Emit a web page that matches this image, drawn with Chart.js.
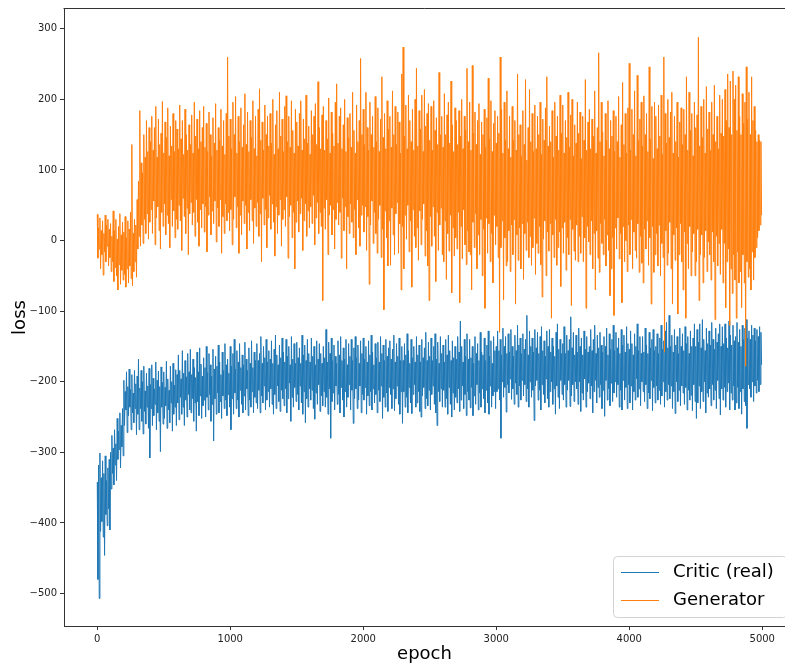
<!DOCTYPE html>
<html>
<head>
<meta charset="utf-8">
<script src="https://cdn.jsdelivr.net/npm/chart.js@4"></script>
<style>
	html, body { margin: 0; padding: 0; background: #fff; overflow: hidden; }
</style>
</head>
<body>
<canvas id="loss-chart" width="785" height="667"></canvas>
<script>

// one sample every 5 epochs (upper / lower edge of the noisy band, alternating)
const epochStep = 5;

const critic = [
	-342, -480, -318, -507, -301, -412, -336, -398, -312, -420, -330, -446, -305, -388, -340, -404, -322, -380, -310, -410,
	-300, -352, -276, -330, -294, -346, -268, -318, -288, -340, -252, -310, -270, -296, -244, -322, -262, -292, -238, -305,
	-198, -262, -214, -240, -186, -272, -207, -248, -182, -236, -211, -268, -190, -244, -216, -258, -184, -238, -203, -275,
	-192, -246, -168, -268, -209, -238, -184, -256, -200, -274, -178, -242, -213, -260, -188, -236, -206, -266, -181, -308,
	-204, -238, -176, -262, -195, -248, -210, -232, -172, -268, -198, -244, -185, -256, -207, -299, -179, -236, -201, -260,
	-186, -252, -208, -234, -171, -266, -196, -240, -212, -258, -178, -230, -200, -270, -174, -246, -205, -236, -183, -262,
	-190, -230, -162, -254, -184, -222, -196, -246, -156, -236, -188, -262, -170, -226, -193, -250, -160, -218, -186, -240,
	-154, -244, -190, -224, -168, -256, -180, -230, -194, -270, -158, -228, -186, -248, -152, -220, -175, -252, -192, -234,
	-166, -226, -180, -250, -150, -222, -187, -240, -160, -218, -176, -256, -192, -232, -154, -284, -182, -224, -164, -246,
	-178, -216, -148, -244, -172, -228, -190, -252, -158, -220, -184, -238, -146, -226, -176, -248, -168, -218, -188, -236,
	-150, -268, -178, -224, -160, -246, -140, -216, -182, -238, -156, -226, -172, -250, -146, -212, -180, -232, -162, -244,
	-176, -220, -144, -240, -168, -210, -184, -248, -152, -226, -174, -236, -142, -214, -180, -244, -158, -222, -170, -230,
	-146, -238, -170, -212, -160, -244, -136, -220, -174, -230, -150, -206, -166, -240, -140, -226, -172, -214, -156, -236,
	-168, -210, -142, -232, -174, -246, -154, -218, -134, -238, -162, -206, -176, -228, -148, -242, -166, -212, -138, -224,
	-158, -234, -172, -210, -140, -244, -164, -224, -150, -202, -176, -256, -136, -222, -168, -236, -146, -208, -174, -228,
	-144, -218, -166, -240, -152, -206, -174, -230, -134, -246, -162, -214, -148, -258, -170, -224, -140, -236, -160, -210,
	-172, -226, -138, -212, -164, -238, -150, -253, -176, -216, -142, -232, -168, -204, -146, -242, -160, -220, -174, -234,
	-150, -214, -166, -236, -126, -222, -172, -246, -144, -210, -160, -280, -138, -228, -170, -216, -148, -240, -164, -206,
	-174, -232, -142, -218, -162, -244, -136, -208, -170, -226, -152, -250, -168, -214, -140, -236, -176, -222, -146, -204,
	-164, -240, -140, -212, -170, -259, -152, -224, -136, -210, -166, -238, -148, -226, -174, -206, -142, -244, -160, -218,
	-138, -226, -168, -208, -150, -246, -172, -220, -142, -234, -162, -214, -134, -240, -158, -210, -176, -230, -146, -218,
	-166, -244, -144, -212, -172, -228, -136, -206, -160, -252, -148, -222, -170, -236, -140, -216, -164, -242, -152, -208,
	-142, -218, -168, -238, -154, -210, -134, -241, -172, -224, -146, -206, -164, -232, -138, -246, -170, -214, -150, -259,
	-170, -214, -146, -236, -162, -222, -132, -244, -156, -208, -174, -230, -140, -245, -166, -218, -150, -204, -172, -236,
	-136, -230, -162, -214, -148, -242, -172, -250, -140, -220, -166, -208, -152, -238, -130, -224, -170, -234, -144, -212,
	-164, -240, -138, -218, -170, -206, -150, -232, -132, -244, -168, -262, -144, -214, -174, -228, -136, -210, -160, -236,
	-148, -212, -172, -236, -140, -224, -162, -246, -134, -208, -156, -232, -170, -250, -142, -216, -166, -240, -150, -222,
	-168, -230, -136, -210, -158, -242, -114, -226, -150, -206, -172, -238, -140, -218, -164, -248, -132, -214, -168, -226,
	-140, -237, -166, -208, -150, -248, -174, -220, -136, -232, -160, -204, -146, -240, -170, -216, -130, -236, -158, -210,
	-162, -224, -138, -244, -170, -212, -148, -230, -128, -246, -164, -206, -142, -236, -174, -220, -136, -214, -156, -238,
	-150, -214, -128, -210, -156, -226, -140, -280, -162, -200, -124, -222, -150, -208, -136, -243, -160, -204, -132, -216,
	-158, -196, -126, -225, -150, -210, -164, -232, -134, -202, -156, -218, -120, -236, -148, -206, -138, -226, -160, -198,
	-132, -220, -154, -204, -140, -228, -106, -210, -162, -236, -128, -200, -150, -222, -138, -212, -158, -255, -126, -206,
	-152, -198, -130, -226, -160, -212, -136, -240, -122, -204, -156, -218, -142, -230, -164, -196, -128, -224, -150, -236,
	-126, -214, -158, -200, -138, -232, -150, -210, -164, -246, -130, -206, -118, -222, -154, -238, -140, -198, -160, -218,
	-146, -226, -122, -204, -160, -236, -134, -212, -156, -198, -140, -235, -108, -220, -152, -204, -130, -228, -162, -200,
	-134, -210, -158, -232, -124, -200, -150, -242, -138, -216, -162, -226, -128, -196, -154, -236, -136, -214, -158, -202,
	-150, -224, -126, -206, -156, -244, -140, -214, -120, -198, -160, -230, -134, -208, -152, -222, -130, -204, -148, -238,
	-158, -212, -136, -249, -150, -198, -124, -226, -162, -210, -132, -234, -154, -202, -140, -228, -120, -216, -156, -200,
	-130, -222, -152, -204, -138, -236, -160, -212, -126, -240, -148, -198, -134, -226, -158, -208, -122, -238, -146, -204,
	-154, -230, -128, -206, -146, -240, -162, -214, -132, -226, -150, -196, -118, -222, -156, -210, -136, -234, -160, -200,
	-136, -214, -158, -228, -124, -204, -148, -238, -160, -216, -130, -224, -152, -198, -140, -241, -126, -208, -156, -230,
	-150, -206, -132, -226, -160, -212, -138, -232, -120, -220, -154, -200, -142, -236, -128, -214, -116, -226, -152, -204,
	-106, -224, -150, -206, -134, -238, -158, -214, -126, -245, -148, -200, -136, -228, -160, -212, -124, -234, -150, -206,
	-132, -216, -156, -232, -122, -208, -146, -240, -136, -212, -160, -226, -128, -219, -150, -241, -138, -204, -118, -228,
	-150, -252, -126, -230, -144, -206, -118, -238, -152, -214, -112, -228, -140, -200, -156, -244, -124, -216, -146, -222,
	-128, -210, -148, -234, -116, -204, -140, -226, -154, -212, -124, -238, -144, -198, -132, -224, -118, -247, -150, -210,
	-122, -226, -146, -208, -118, -236, -138, -214, -152, -202, -114, -240, -134, -216, -148, -226, -120, -206, -142, -240,
	-136, -230, -116, -208, -144, -238, -126, -214, -150, -246, -120, -210, -140, -228, -124, -234, -112, -266, -138, -204,
	-128, -210, -140, -222, -120, -200, -134, -228, -124, -206, -142, -216, -126, -198, -136, -214, -122, -204, -130, -176
];

const generator = [
	37, -25, 18, -12, 32, -40, 14, -20, 28, -49, 10, -16, 36, -30, 22, -8, 30, -36, 16, -24,
	24, -44, 6, -30, 42, -58, 14, -38, 30, -50, 2, -70, 20, -34, 38, -62, 8, -42, 26, -56,
	12, -48, 34, -66, 4, -40, 28, -60, 16, -36, 40, -54, 136, -64, 10, -44, 30, -30, 22, -52,
	58, -12, 84, 6, 184, -8, 110, 22, 96, -4, 150, 30, 118, 10, 170, 38, 126, 2, 160, 26,
	140, 44, 176, 10, 128, 56, 160, -6, 190, 32, 118, 48, 172, 14, 136, -12, 152, 40, 197, 20,
	124, 52, 168, 8, 146, 36, 188, 24, 120, -10, 162, 58, 134, 20, 180, 42, 126, 4, 170, 30,
	158, 16, 130, 50, 192, 28, 144, -14, 170, 60, 122, 34, 186, 10, 150, 46, 128, -20, 164, 38,
	136, 54, 178, 22, 124, 40, 196, 6, 148, 58, 172, 26, 130, -8, 184, 44, 140, 18, 160, 52,
	190, 12, 132, 48, 166, -16, 126, 36, 182, 62, 150, 8, 120, 42, 174, 24, 138, 56, 194, -2,
	128, 46, 160, 20, 142, 58, 186, -18, 134, 34, 170, 10, 122, 52, 180, 28, 260, 40, 148, 14,
	172, 44, 130, -6, 196, 30, 150, 62, 204, 18, 124, 48, 176, -18, 140, 36, 188, 8, 132, 56,
	164, 24, 208, 50, 136, -12, 182, 40, 126, 14, 170, 58, 146, 28, 198, -4, 130, 46, 176, 20,
	120, 54, 186, 6, 215, 38, 142, -30, 168, 60, 128, 22, 192, 44, 150, -10, 176, 32, 134, 64,
	180, 16, 138, 52, 200, 26, 122, -22, 164, 48, 184, 10, 130, 36, 210, 58, 148, -8, 172, 30,
	126, 44, 190, 20, 205, 62, 140, -25, 176, 34, 132, 50, 198, 4, 156, 40, 124, -40, 186, 26,
	168, 56, 134, 12, 180, 38, 198, 60, 128, -14, 172, 28, 144, 52, 206, 6, 138, 42, 162, 18,
	122, 48, 184, 24, 150, 64, 176, -6, 194, 32, 136, 54, 225, 10, 160, 40, 130, 20, 178, -85,
	190, 46, 128, 16, 170, 58, 144, -20, 202, 36, 124, 50, 182, 8, 152, 44, 134, -12, 196, 30,
	222, 54, 138, 22, 176, 40, 188, -25, 130, 60, 164, 14, 200, 48, 126, -40, 174, 34, 146, 10,
	180, 52, 132, 26, 210, 4, 156, 44, 124, -20, 192, 58, 140, 18, 170, -8, 258, 36, 150, 50,
	186, 12, 136, 48, 210, -14, 160, 34, 128, -62, 196, 22, 150, 56, 176, -4, 132, 40, 204, 10,
	140, -18, 188, 30, 126, 50, 172, -24, 232, 16, 146, -98, 180, 42, 130, 4, 198, -36, 158, 28,
	176, -35, 132, 46, 212, 8, 150, -20, 190, 38, 136, 54, 182, -18, 168, 24, 124, -70, 236, 20,
	274, -40, 148, 36, 192, 2, 130, 50, 206, -16, 170, 28, 140, -66, 186, 44, 128, 6, 200, -10,
	244, 18, 134, -28, 184, 42, 158, -6, 206, 30, 126, 52, 214, -22, 162, 14, 180, -36, 194, -85,
	142, 34, 190, -8, 128, 48, 198, 6, 156, -58, 174, 40, 136, -14, 238, 22, 150, 46, 176, -20,
	132, -30, 208, 28, 150, -55, 178, 10, 196, -15, 138, 36, 226, -74, 164, 18, 126, -22, 188, 4,
	170, -12, 136, 40, 184, -88, 148, 20, 200, -26, 130, 44, 176, -6, 156, -34, 244, 14, 140, -16,
	196, -20, 128, -70, 248, 26, 152, -10, 182, 38, 136, -40, 170, 8, 194, -20, 122, 30, 168, -50,
	150, 16, 186, -96, 132, 32, 174, -18, 230, 24, 144, -30, 198, 10, 126, -60, 166, 36, 184, -6,
	138, 20, 176, -24, 152, -130, 260, -10, 186, 28, 124, -84, 196, 4, 142, -36, 212, -30, 130, 14,
	176, -44, 118, 22, 190, -20, 142, 30, 170, -90, 128, 8, 236, -28, 150, 18, 164, -40, 120, 24,
	184, -55, 136, 10, 228, -14, 114, 26, 160, -24, 214, 6, 140, -35, 180, -10, 126, 32, 192, -48,
	130, -4, 176, -18, 150, 20, 196, -34, 122, -80, 172, 2, 142, 28, 188, -50, 232, 12, 134, -15,
	162, 24, 140, -110, 184, 8, 118, -24, 196, 30, 148, -35, 176, -10, 128, 12, 206, -65, 152, 18,
	192, -18, 124, 26, 170, -42, 146, 4, 210, -20, 132, 30, 178, -92, 200, 16, 120, -15, 164, -28,
	138, 22, 196, -30, 152, 6, 182, -18, 116, 34, 176, -30, 142, 4, 228, -96, 128, 20, 168, -2,
	186, -20, 130, 28, 172, -40, 148, 10, 212, -70, 124, 14, 160, -25, 266, -45, 140, 24, 196, -4,
	154, -20, 120, 30, 180, -36, 142, 8, 198, -14, 130, -78, 170, -40, 148, 4, 184, -106, 126, 18,
	176, -12, 140, 32, 204, -26, 118, 10, 164, -88, 224, 20, 136, -30, 180, 0, 124, -44, 188, 22,
	251, -20, 128, 30, 186, -40, 150, 12, 212, -14, 120, -25, 234, 24, 142, -45, 172, 6, 196, -32,
	134, -60, 205, 16, 150, -12, 180, 28, 126, -35, 246, 4, 144, -90, 190, 20, 116, -45, 196, -20,
	176, 10, 130, -36, 192, 22, 148, -50, 206, -4, 122, -24, 260, -158, 180, 14, 138, -35, 200, -18,
	146, 26, 182, -40, 210, -90, 124, 8, 176, -28, 140, 18, 196, -104, 118, -20, 168, 24, 188, -30,
	136, -70, 186, 12, 150, -110, 232, -4, 128, -40, 210, 20, 156, -50, 180, -16, 120, 10, 196, -50,
	160, -30, 178, 16, 288, -85, 134, -20, 190, 8, 146, -60, 200, -24, 124, 14, 218, -44, 158, -2,
	182, -20, 128, -56, 196, 12, 150, -30, 220, -112, 140, 6, 176, -36, 130, -4, 206, -48, 152, 16,
	200, -60, 148, -4, 214, -95, 170, -30, 236, -12, 160, -120, 226, -40, 150, -75, 240, -20, 200, -56,
	220, -110, 156, -16, 232, -60, 176, -44, 150, -95, 208, -20, 166, -60, 196, -178, 246, -30, 172, -52,
	210, -40, 150, -70, 232, -16, 170, -56, 190, -24, 156, -10, 140, 4, 150, 14, 142, 22, 140, 36
];

const xTicks = [ 0, 1000, 2000, 3000, 4000, 5000 ];
const yTicks = [ -500, -400, -300, -200, -100, 0, 100, 200, 300 ];

const seriesNames = [ 'Critic (real)', 'Generator' ];
const seriesColors = [ '#1f77b4', '#ff7f0e' ];

const axisColor = '#333';
const points = vals => vals.map( ( v, i ) => ( { x: i * epochStep, y: v } ) );

Chart.defaults.font.family = '"DejaVu Sans", sans-serif';
Chart.defaults.color = '#222';

// top spine + legend box in the lower right of the axes (the figure is cut on the right)
const frame = {
	id: 'frame',
	afterDatasetsDraw( chart ) {
		const { ctx, chartArea: a, width } = chart;
		ctx.save();
		ctx.strokeStyle = axisColor;
		ctx.lineWidth = 1;
		ctx.beginPath();
		ctx.moveTo( a.left - 0.5, a.top - 0.5 );
		ctx.lineTo( width, a.top - 0.5 );
		ctx.stroke();

		const bx = 613, by = 556, bw = 174, bh = 61;
		ctx.beginPath();
		ctx.roundRect( bx + 0.5, by + 0.5, bw, bh, 4 );
		ctx.fillStyle = 'rgba(255,255,255,0.8)';
		ctx.fill();
		ctx.strokeStyle = '#d3d3d3';
		ctx.stroke();

		ctx.font = '18px "DejaVu Sans"';
		ctx.textBaseline = 'middle';
		seriesNames.forEach( ( name, i ) => {
			const y = 572 + i * 28;
			ctx.beginPath();
			ctx.moveTo( 621, y + 0.5 );
			ctx.lineTo( 659, y + 0.5 );
			ctx.strokeStyle = seriesColors[i];
			ctx.lineWidth = 1;
			ctx.stroke();
			ctx.fillStyle = '#000';
			ctx.fillText( name, 673, y );
		} );
		ctx.restore();
	}
};

new Chart( 'loss-chart', {
	type: 'line',
	data: {
		datasets: [ critic, generator ].map( ( vals, i ) => ( {
			label: seriesNames[i],
			data: points( vals ),
			borderColor: seriesColors[i],
			borderWidth: 1,
			pointRadius: 0,
			tension: 0,
			fill: false,
			order: 1 - i
		} ) )
	},
	options: {
		responsive: false,
		animation: false,
		layout: { padding: { top: 5, right: 0, left: 0, bottom: 0 } },
		plugins: {
			legend: { display: false },
			tooltip: { enabled: false }
		},
		scales: {
			x: {
				type: 'linear',
				min: -250,
				max: 5171,
				afterFit: s => { s.height = 41; },
				afterBuildTicks: s => { s.ticks = xTicks.map( v => ( { value: v } ) ); },
				grid: { drawOnChartArea: false, tickLength: 4, tickColor: axisColor },
				border: { color: axisColor },
				ticks: { font: { size: 10 }, padding: 3, maxRotation: 0, callback: v => String( v ) },
				title: { display: true, text: 'epoch', font: { size: 18 }, padding: { top: 0, bottom: 2 }, color: '#000' }
			},
			y: {
				min: -546,
				max: 328,
				afterFit: s => { s.width = 64; },
				afterBuildTicks: s => { s.ticks = yTicks.map( v => ( { value: v } ) ); },
				grid: { drawOnChartArea: false, tickLength: 4, tickColor: axisColor },
				border: { color: axisColor },
				ticks: { font: { size: 10 }, padding: 3, callback: v => String( v ).replace( '-', '\u2212' ) },
				title: { display: true, text: 'loss', font: { size: 18 }, padding: { top: 10, bottom: 0 }, color: '#000' }
			}
		}
	},
	plugins: [ frame ]
} );

</script>
</body>
</html>
